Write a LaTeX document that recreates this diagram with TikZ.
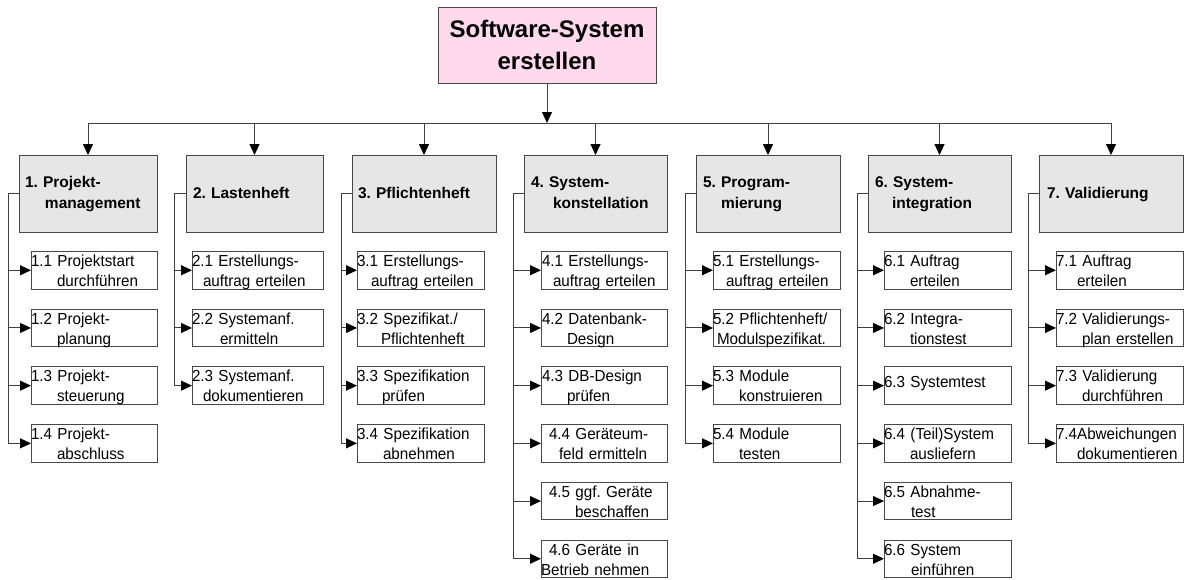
\documentclass[tikz,border=0pt]{standalone}
\usepackage{fontspec}
\setmainfont{Liberation Sans}
\newfontfamily\tasknarrow{Liberation Sans}[FakeStretch=0.95]
\usetikzlibrary{arrows.meta}
\hyphenpenalty=10000
\exhyphenpenalty=10000
\frenchspacing
\definecolor{rootfill}{RGB}{255,217,236}
\definecolor{phasefill}{RGB}{230,230,230}
\definecolor{linec}{RGB}{64,64,64}
\definecolor{boxc}{RGB}{72,72,72}
\begin{document}
\begin{tikzpicture}[x=1pt,y=-1pt,
  every node/.style={inner sep=0pt, outer sep=0pt},
  rootbox/.style={draw=boxc, fill=rootfill, line width=1pt, anchor=north west,
    text width=218pt, align=center, text height=30.3pt, text depth=45.7pt,
    font=\fontsize{24}{32}\selectfont\bfseries},
  phase/.style={draw=boxc, fill=phasefill, line width=1pt, anchor=north west,
    align=left, font=\fontsize{15.5}{21}\selectfont\bfseries},
  twoline/.style={text height=32pt, text depth=45pt},
  oneline/.style={text height=43pt, text depth=34pt},
  task/.style={draw=boxc, fill=white, line width=1pt, anchor=north west,
    align=left, font=\tasknarrow\fontsize{16}{20}\selectfont,
    text height=15pt, text depth=22.5pt},
  single/.style={text height=21pt, text depth=16.5pt},
  arr/.style={draw=linec, line width=1pt, -{Triangle[length=11pt,width=10pt,color=black]}},
  conn/.style={draw=linec, line width=1pt}]
\useasboundingbox (0,0) rectangle (1184,579);

% root
\node[rootbox] (root) at (438,7) {Software-System\\erstellen};
\coordinate (bar) at (547,123);

% phases
\node[phase, twoline, text width=138pt] (p1) at (19,155)   {\hspace*{6pt}1. Projekt-\\\hspace*{26pt}management};
\node[phase, oneline, text width=137pt] (p2) at (186,155)  {\hspace*{7pt}2. Lastenheft};
\node[phase, oneline, text width=144pt] (p3) at (352,155)  {\hspace*{6pt}3. Pflichtenheft};
\node[phase, twoline, text width=143pt] (p4) at (524,155)  {\hspace*{7pt}4. System-\\\hspace*{29pt}konstellation};
\node[phase, twoline, text width=144pt] (p5) at (696,155)  {\hspace*{7pt}5. Program-\\\hspace*{25pt}mierung};
\node[phase, twoline, text width=143pt] (p6) at (868,155)  {\hspace*{7pt}6. System-\\\hspace*{24pt}integration};
\node[phase, oneline, text width=144pt] (p7) at (1039,155) {\hspace*{8pt}7. Validierung};

% column 1
\node[task, text width=126pt] (t11) at (31,251.5) {1.1 Projektstart\\\hspace*{26pt}durchführen};
\node[task, text width=126pt] (t12) at (31,309.2) {1.2 Projekt-\\\hspace*{26pt}planung};
\node[task, text width=126pt] (t13) at (31,366.9) {1.3 Projekt-\\\hspace*{26pt}steuerung};
\node[task, text width=126pt] (t14) at (31,424.6) {1.4 Projekt-\\\hspace*{26pt}abschluss};
% column 2
\node[task, text width=131pt] (t21) at (192,251.5) {2.1 Erstellungs-\\\hspace*{11pt}auftrag erteilen};
\node[task, text width=131pt] (t22) at (192,309.2) {2.2 Systemanf.\\\hspace*{28pt}ermitteln};
\node[task, text width=131pt] (t23) at (192,366.9) {2.3 Systemanf.\\\hspace*{11pt}dokumentieren};
% column 3
\node[task, text width=127pt] (t31) at (357,251.5) {3.1 Erstellungs-\\\hspace*{14pt}auftrag erteilen};
\node[task, text width=127pt] (t32) at (357,309.2) {3.2 Spezifikat./\\\hspace*{24pt}Pflichtenheft};
\node[task, text width=127pt] (t33) at (357,366.9) {3.3 Spezifikation\\\hspace*{25pt}prüfen};
\node[task, text width=127pt] (t34) at (357,424.6) {3.4 Spezifikation\\\hspace*{26pt}abnehmen};
% column 4
\node[task, text width=126pt] (t41) at (541,251.5) {\hspace*{1pt}4.1 Erstellungs-\\\hspace*{12pt}auftrag erteilen};
\node[task, text width=126pt] (t42) at (541,309.2) {\hspace*{1pt}4.2 Datenbank-\\\hspace*{26pt}Design};
\node[task, text width=126pt] (t43) at (541,366.9) {\hspace*{1pt}4.3 DB-Design\\\hspace*{26pt}prüfen};
\node[task, text width=126pt] (t44) at (541,424.6) {\hspace*{8pt}4.4 Geräteum-\\\hspace*{18pt}feld ermitteln};
\node[task, text width=126pt] (t45) at (541,482.3) {\hspace*{8pt}4.5 ggf. Geräte\\\hspace*{34pt}beschaffen};
\node[task, text width=126pt] (t46) at (541,540)   {\hspace*{8pt}4.6 Geräte in\\Betrieb nehmen};
% column 5
\node[task, text width=127pt] (t51) at (713,251.5) {5.1 Erstellungs-\\\hspace*{13pt}auftrag erteilen};
\node[task, text width=127pt] (t52) at (713,309.2) {5.2 Pflichtenheft/\\\hspace*{4pt}Modulspezifikat.};
\node[task, text width=127pt] (t53) at (713,366.9) {5.3 Module\\\hspace*{26pt}konstruieren};
\node[task, text width=127pt] (t54) at (713,424.6) {5.4 Module\\\hspace*{26pt}testen};
% column 6
\node[task, text width=127pt] (t61) at (884,251.5) {6.1 Auftrag\\\hspace*{26pt}erteilen};
\node[task, text width=127pt] (t62) at (884,309.2) {6.2 Integra-\\\hspace*{26pt}tionstest};
\node[task, single, text width=127pt] (t63) at (884,366.9) {6.3 Systemtest};
\node[task, text width=127pt] (t64) at (884,424.6) {6.4 (Teil)System\\\hspace*{26pt}ausliefern};
\node[task, text width=127pt] (t65) at (884,482.3) {6.5 Abnahme-\\\hspace*{27pt}test};
\node[task, text width=127pt] (t66) at (884,540)   {6.6 System\\\hspace*{27pt}einführen};
% column 7
\node[task, text width=127pt] (t71) at (1056,251.5) {7.1 Auftrag\\\hspace*{21pt}erteilen};
\node[task, text width=127pt] (t72) at (1056,309.2) {7.2 Validierungs-\\\hspace*{26pt}plan erstellen};
\node[task, text width=127pt] (t73) at (1056,366.9) {7.3 Validierung\\\hspace*{26pt}durchführen};
\node[task, text width=127pt] (t74) at (1056,424.6) {7.4Abweichungen\\\hspace*{21pt}dokumentieren};

% top connectors
\draw[arr] (root.south) -- (bar);
\draw[conn] (p1.north |- bar) -- (p7.north |- bar);
\foreach \p in {p1,p2,p3,p4,p5,p6,p7}
  \draw[arr] (\p.north |- bar) -- (\p.north);

% child connectors
\foreach \c in {t11,t12,t13,t14}
  \draw[arr] (p1.west) -- ++(-11,0) |- (\c.west);
\foreach \c in {t21,t22,t23}
  \draw[arr] (p2.west) -- ++(-12,0) |- (\c.west);
\foreach \c in {t31,t32,t33,t34}
  \draw[arr] (p3.west) -- ++(-10.5,0) |- (\c.west);
\foreach \c in {t41,t42,t43,t44,t45,t46}
  \draw[arr] (p4.west) -- ++(-11,0) |- (\c.west);
\foreach \c in {t51,t52,t53,t54}
  \draw[arr] (p5.west) -- ++(-11,0) |- (\c.west);
\foreach \c in {t61,t62,t63,t64,t65,t66}
  \draw[arr] (p6.west) -- ++(-11,0) |- (\c.west);
\foreach \c in {t71,t72,t73,t74}
  \draw[arr] (p7.west) -- ++(-11,0) |- (\c.west);
\end{tikzpicture}
\end{document}
